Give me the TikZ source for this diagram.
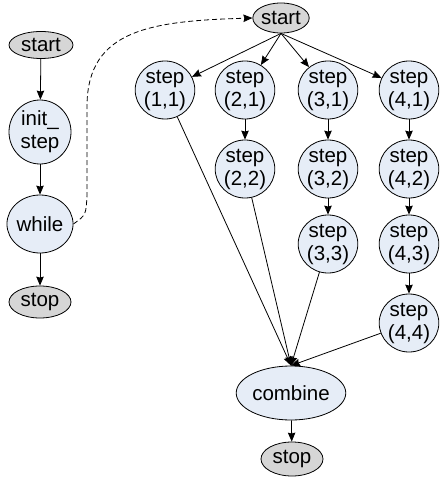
\documentclass[tikz,border=0pt]{standalone}
\usepackage{fontspec}
\setmainfont{Liberation Sans}
\usetikzlibrary{shapes.geometric,arrows.meta}
\definecolor{taskfill}{HTML}{E6EDF7}
\definecolor{termfill}{HTML}{D6D6D6}
\tikzset{
  base/.style={ellipse,draw,line width=0.8pt,inner sep=0pt,align=center,
    font=\fontsize{20.5}{23}\selectfont},
  term/.style={base,fill=termfill},
  task/.style={base,fill=taskfill},
  stepbox/.style={task,minimum width=58pt,minimum height=58pt},
  link/.style={line width=0.8pt,-{Stealth[length=9pt,width=7.5pt,inset=1pt]}},
}
\newcommand{\stepnode}[4]{%
  \node[stepbox] (#1) at (#2,#3) {step\\[0pt](#4)};}
\begin{document}
\begin{tikzpicture}[x=1pt,y=-1pt]
\useasboundingbox (0,0) rectangle (441,478);

% sequential version
\node[term,minimum width=64pt,minimum height=27pt] (lstart) at (41,45) {start};
\node[task,minimum width=62pt,minimum height=64pt] (init) at (40,132) {init\_\\[0pt]step};
\node[task,minimum width=62pt,minimum height=58pt] (while) at (40,224) {while};
\node[term,minimum width=62pt,minimum height=32pt] (lstop) at (40,302) {stop};

\draw[link] (lstart) -- (init);
\draw[link] (init) -- (while);
\draw[link] (while) -- (lstop);

% parallel version
\node[term,minimum width=56pt,minimum height=30pt] (rstart) at (281,18) {start};

\stepnode{s11}{165}{90}{1,1}
\stepnode{s21}{245}{90}{2,1}
\stepnode{s31}{328}{90}{3,1}
\stepnode{s41}{409}{90}{4,1}
\stepnode{s22}{245}{169}{2,2}
\stepnode{s32}{328}{169}{3,2}
\stepnode{s42}{409}{169}{4,2}
\stepnode{s33}{328}{244}{3,3}
\stepnode{s43}{409}{244}{4,3}
\stepnode{s44}{409}{323}{4,4}

\node[task,minimum width=96pt,minimum height=54pt] (combine) at (291,393) {combine};
\node[term,minimum width=62pt,minimum height=34pt] (rstop) at (292,459) {stop};

\foreach \s in {s11,s21,s31,s41}
  \draw[link] (rstart.south) -- (\s);
\draw[link] (s21) -- (s22);
\draw[link] (s31) -- (s32);
\draw[link] (s32) -- (s33);
\draw[link] (s41) -- (s42);
\draw[link] (s42) -- (s43);
\draw[link] (s43) -- (s44);
\foreach \s in {s11,s22,s33,s44}
  \draw[link] (\s) -- (combine.north);
\draw[link] (combine) -- (rstop);

% hand-off from the loop to the parallel start
\draw[link,dashed,dash pattern=on 5pt off 3pt]
  (while.east) .. controls (86,215) .. (87,195) -- (87,105)
  .. controls (88,30) and (150,21) .. (rstart.west);
\end{tikzpicture}
\end{document}
